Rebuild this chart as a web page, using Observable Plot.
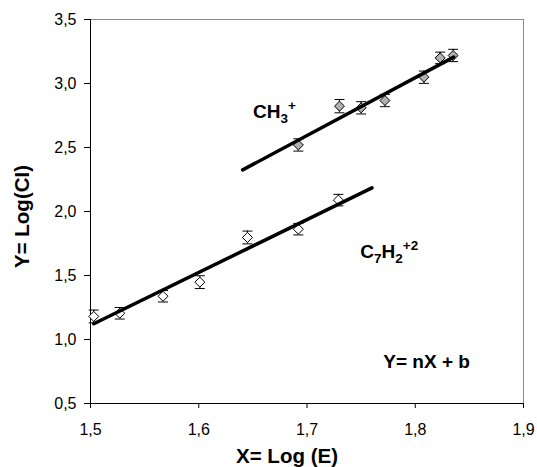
<!DOCTYPE html>
<html>
<head>
<meta charset="utf-8">
<script src="https://cdn.jsdelivr.net/npm/d3@7"></script>
<script src="https://cdn.jsdelivr.net/npm/@observablehq/plot@0.6"></script>
<style>
  html, body { margin: 0; padding: 0; background: #fff; }
  #chart { width: 537px; height: 467px; }
</style>
</head>
<body>
<div id="chart"></div>
<script>
// ---- data ----
const xTicks = [1.5, 1.6, 1.7, 1.8, 1.9];
const yTicks = [0.5, 1.0, 1.5, 2.0, 2.5, 3.0, 3.5];

// C7H2+2 series (open diamonds)
const c7x = [1.503, 1.527, 1.567, 1.601, 1.645, 1.692, 1.729];
const c7y = [1.180, 1.205, 1.338, 1.448, 1.797, 1.862, 2.089];
const c7e = [0.050, 0.045, 0.045, 0.050, 0.050, 0.045, 0.045];

// CH3+ series (grey diamonds)
const chx = [1.692, 1.730, 1.750, 1.772, 1.808, 1.823, 1.835];
const chy = [2.520, 2.823, 2.810, 2.867, 3.049, 3.200, 3.219];
const che = [0.048, 0.052, 0.048, 0.048, 0.048, 0.045, 0.048];

// fitted lines (end points)
const fitC7x = [1.503, 1.760];
const fitC7y = [1.123, 2.185];
const fitCHx = [1.6406, 1.8355];
const fitCHy = [2.325, 3.206];

// annotations
const labelText = ["CH3+", "C7H2+2"];
const labelX = [1.6502, 1.7493];
const labelY = [2.777, 1.682];
const eqText = ["Y= nX + b"];
const eqX = [1.7705];
const eqY = [0.823];

const xTitle = "X= Log (E)";
const yTitle = "Y= Log(CI)";

// ---- build tables ----
const c7 = c7x.map((x, i) => ({x, y: c7y[i], e: c7e[i]}));
const ch = chx.map((x, i) => ({x, y: chy[i], e: che[i]}));
const fitC7 = fitC7x.map((x, i) => ({x, y: fitC7y[i]}));
const fitCH = fitCHx.map((x, i) => ({x, y: fitCHy[i]}));
const labels = labelText.map((t, i) => ({t, x: labelX[i], y: labelY[i]}));
const eq = eqText.map((t, i) => ({t, x: eqX[i], y: eqY[i]}));

const fmt = d => d.toFixed(1).replace(".", ",");
const font = "'Liberation Sans', Arial, Helvetica, sans-serif";

const capSymbol = {
  draw(context, size) {
    const r = Math.sqrt(size / Math.PI);
    context.moveTo(-r, 0);
    context.lineTo(r, 0);
  }
};

function errorMarks(data) {
  return [
    Plot.ruleX(data, {x: "x", y1: d => d.y - d.e, y2: d => d.y + d.e, stroke: "black", strokeWidth: 1}),
    Plot.dot(data, {x: "x", y: d => d.y + d.e, symbol: capSymbol, r: 5, fill: "none", stroke: "black", strokeWidth: 1}),
    Plot.dot(data, {x: "x", y: d => d.y - d.e, symbol: capSymbol, r: 5, fill: "none", stroke: "black", strokeWidth: 1})
  ];
}

const plot = Plot.plot({
  width: 537,
  height: 467,
  marginLeft: 90,
  marginRight: 14,
  marginTop: 19,
  marginBottom: 64,
  style: {fontFamily: font, background: "#fff", color: "#000", overflow: "visible"},
  x: {domain: [1.5, 1.9]},
  y: {domain: [0.5, 3.5]},
  marks: [
    // frame
    Plot.ruleY([3.5], {stroke: "#8c8c8c", strokeWidth: 1}),
    Plot.ruleX([1.9], {stroke: "#8c8c8c", strokeWidth: 1}),
    Plot.ruleX([1.5], {stroke: "#000", strokeWidth: 1}),
    Plot.ruleY([0.5], {stroke: "#000", strokeWidth: 1}),
    Plot.axisX({ticks: xTicks, tickFormat: fmt, tickSize: 5, tickPadding: 15, fontSize: 16, label: null, stroke: "#000", className: "tl"}),
    Plot.axisY({ticks: yTicks, tickFormat: fmt, tickSize: 6, tickPadding: 8, fontSize: 16, label: null, stroke: "#000", className: "tl"}),
    // error bars
    ...errorMarks(c7),
    ...errorMarks(ch),
    // points
    Plot.dot(c7, {x: "x", y: "y", symbol: "diamond2", r: 4.5, fill: "#fff", stroke: "#000", strokeWidth: 1}),
    Plot.dot(ch, {x: "x", y: "y", symbol: "diamond2", r: 4.5, fill: "#b0b0b0", stroke: "#000", strokeWidth: 1}),
    // fit lines
    Plot.line(fitC7, {x: "x", y: "y", stroke: "#000", strokeWidth: 3.5}),
    Plot.line(fitCH, {x: "x", y: "y", stroke: "#000", strokeWidth: 3.5}),
    // annotations
    Plot.text(labels, {x: "x", y: "y", text: "t", textAnchor: "start", lineAnchor: "middle", fontSize: 19, fontWeight: "bold", fill: "#000", className: "chem"}),
    Plot.text(eq, {x: "x", y: "y", text: "t", textAnchor: "start", lineAnchor: "middle", fontSize: 19, fontWeight: "bold", fill: "#000"}),
    // axis titles
    Plot.text([xTitle], {frameAnchor: "bottom", text: d => d, textAnchor: "middle", lineAnchor: "middle", dx: -20, dy: 53, fontSize: 20.5, fontWeight: "bold", fill: "#000"}),
    Plot.text([yTitle], {frameAnchor: "left", text: d => d, textAnchor: "middle", lineAnchor: "middle", rotate: -90, dx: -68, dy: 5, fontSize: 20.5, fontWeight: "bold", fill: "#000"})
  ]
});

// enforce tick-label font size
d3.select(plot).selectAll(".tl text").attr("font-size", "16px");
d3.select(plot).selectAll(".tl").attr("font-size", "16px");

// convert chemical labels to sub/superscript tspans
function chemParts(s) {
  const parts = [];
  let m = s.match(/^(.*?)(\+\d*)$/);
  let body = m ? m[1] : s;
  const charge = m ? m[2] : null;
  const re = /([A-Z][a-z]?)(\d*)/g;
  let r;
  while ((r = re.exec(body)) !== null) {
    if (!r[0]) break;
    parts.push({t: r[1], k: "n"});
    if (r[2]) parts.push({t: r[2], k: "sub"});
  }
  if (charge) parts.push({t: charge, k: "sup"});
  return parts;
}
d3.select(plot).selectAll(".chem text").each(function() {
  const el = d3.select(this);
  const s = el.text();
  el.text("");
  let cur = 0;
  for (const p of chemParts(s)) {
    const target = p.k === "sub" ? 5 : p.k === "sup" ? -8 : 0;
    const ts = el.append("tspan").text(p.t).attr("dy", (target - cur) + "px");
    if (p.k !== "n") ts.attr("font-size", "13.5px");
    cur = target;
  }
});

document.getElementById("chart").appendChild(plot);
</script>
</body>
</html>
